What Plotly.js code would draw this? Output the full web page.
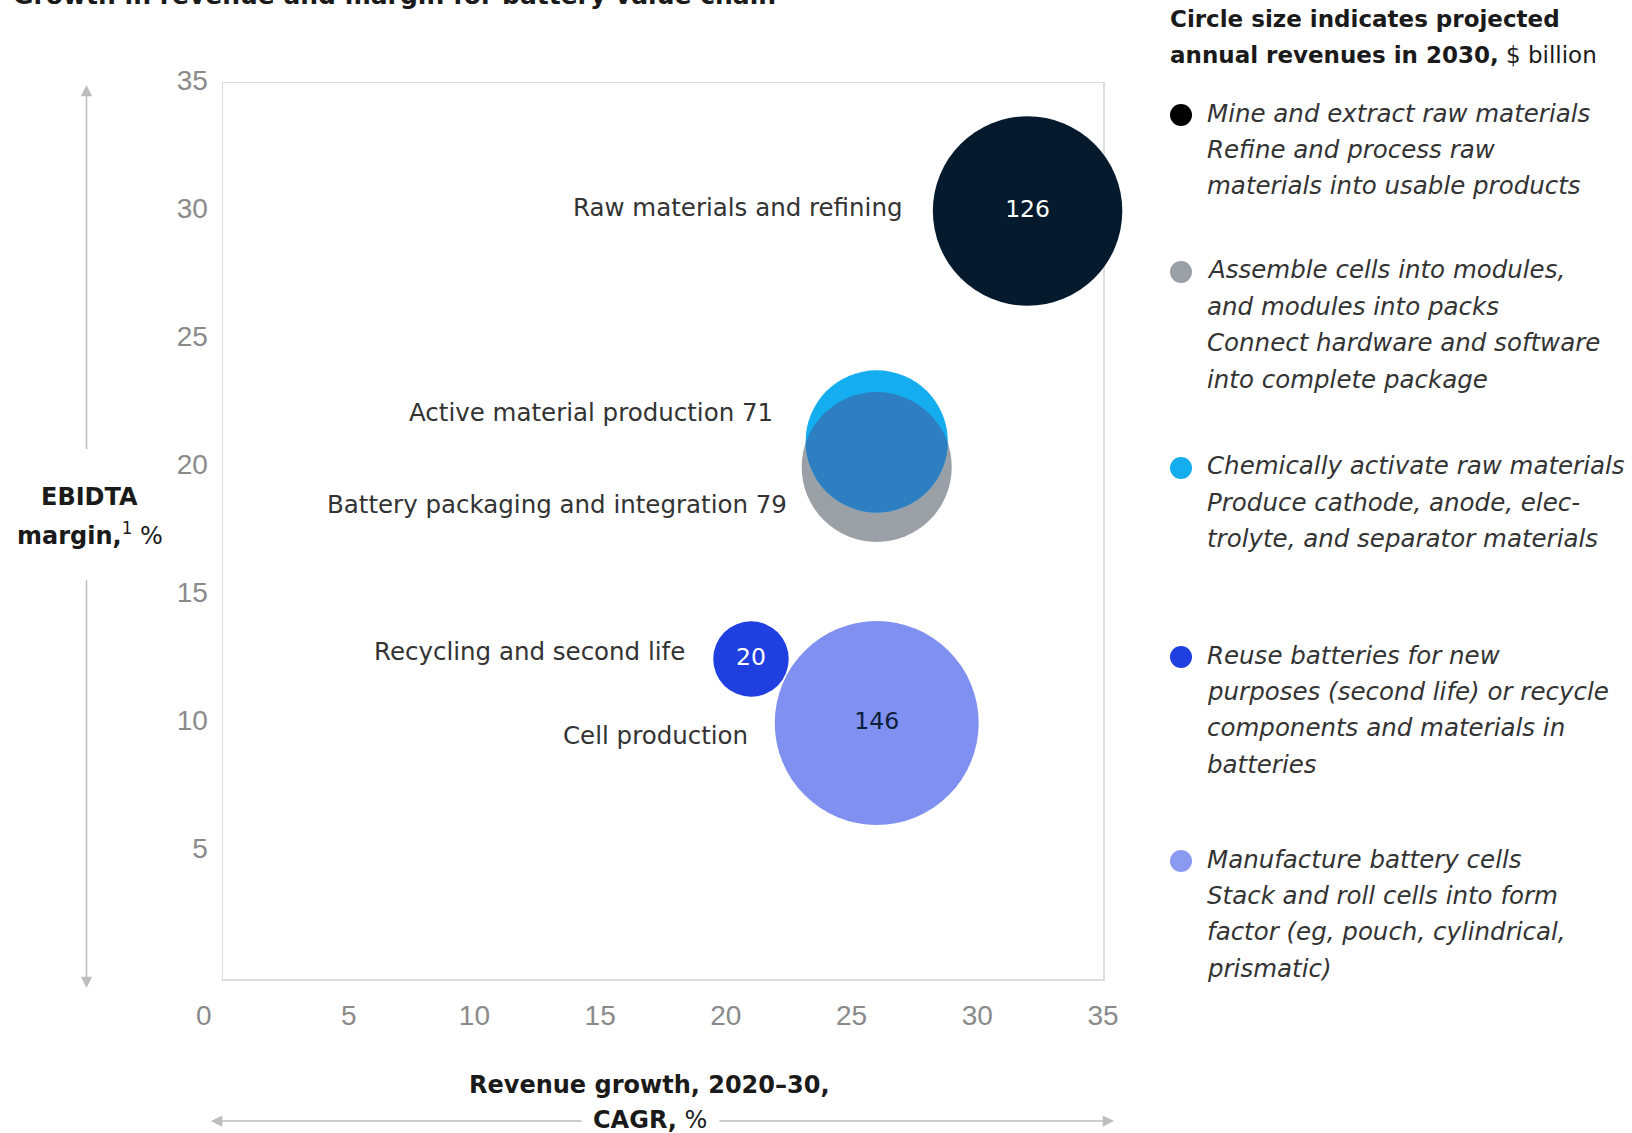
<!DOCTYPE html>
<html>
<head>
<meta charset="utf-8">
<script src="https://cdn.plot.ly/plotly-3.0.1.min.js"></script>
<style>
html, body { margin: 0; padding: 0; background: #ffffff; }
#chart { width: 1632px; height: 1133px; }
</style>
</head>
<body>
<div id="chart"></div>
<script>
// ---------------- DATA ----------------
var categories = [
  'Raw materials and refining',
  'Battery packaging and integration',
  'Active material production',
  'Recycling and second life',
  'Cell production'
];
var revenueGrowth = [32, 26, 26, 21, 26];        // CAGR 2020-30, %
var ebitdaMargin  = [30, 20, 21, 12.5, 10];      // %
var revenue2030   = [126, 79, 71, 20, 146];      // $ billion
var valueInside   = [true, false, false, true, true];
var bubbleColors  = ['#061a2e', '#9aa0a6', '#14adf0', '#1f3fe0', '#8090f0'];
var insideTextColors = ['#ffffff', '#ffffff', '#ffffff', '#ffffff', '#0a1f3a'];
var lensColor = '#2e7fc1';

var xTickVals = [5, 10, 15, 20, 25, 30, 35];
var xTickText = ['5', '10', '15', '20', '25', '30', '35'];
var yTickVals = [5, 10, 15, 20, 25, 30, 35];
var yTickText = ['5', '10', '15', '20', '25', '30', '35'];
var cornerTick = '0';

var chartTitle = 'Growth in revenue and margin for battery value chain';
var xTitleLines = ['<b>Revenue growth, 2020–30,</b>', '<b>CAGR,</b> %'];
var yTitleLines = ['<b>EBIDTA</b>', '<b>margin,</b><sup>1</sup> %'];
var legendTitleLines = ['<b>Circle size indicates projected</b>', '<b>annual revenues in 2030,</b> $ billion'];
var legendColors = ['#000000', '#9aa0a6', '#14adf0', '#1f3fe0', '#8a9af0'];
var legendLines = [
  ['Mine and extract raw materials', 'Refine and process raw', 'materials into usable products'],
  ['Assemble cells into modules,', 'and modules into packs', 'Connect hardware and software', 'into complete package'],
  ['Chemically activate raw materials', 'Produce cathode, anode, elec-', 'trolyte, and separator materials'],
  ['Reuse batteries for new', 'purposes (second life) or recycle', 'components and materials in', 'batteries'],
  ['Manufacture battery cells', 'Stack and roll cells into form', 'factor (eg, pouch, cylindrical,', 'prismatic)']
];

// ---------------- LAYOUT CONSTANTS (positions / styles) ----------------
var W = 1632, H = 1133;
var ML = 223, MR = 529, MT = 83, MB = 154;
var PW = W - ML - MR, PH = H - MT - MB;
function pxX(px) { return (px - ML) / PW; }
function pxY(py) { return (H - MB - py) / PH; }

var TXT = 'DejaVu Sans, Verdana, sans-serif';
var TICK = 'Liberation Sans, Arial, sans-serif';
var labelShiftX = [-124, -88, -102, -64, -127];
var labelShiftY = [4, -37, 29, 8, -12];
var legendEntryY = [113, 270, 466, 655, 859];
var legendLineGap = 36.4;

// ---------------- TRACE ----------------
var bubbleTrace = {
  type: 'scatter',
  mode: 'markers+text',
  x: revenueGrowth,
  y: ebitdaMargin,
  text: revenue2030.map(function (v, i) { return valueInside[i] ? String(v) : ''; }),
  textposition: 'middle center',
  textfont: { family: TXT, size: 23.5, color: insideTextColors },
  cliponaxis: false,
  hoverinfo: 'skip',
  marker: {
    size: revenue2030,
    sizemode: 'area',
    sizeref: 0.00702,
    color: bubbleColors,
    opacity: 1,
    line: { width: 0 }
  },
  showlegend: false
};

// ---------------- ANNOTATIONS ----------------
var ann = [];

// bubble labels
categories.forEach(function (c, i) {
  ann.push({
    x: revenueGrowth[i], y: ebitdaMargin[i], xref: 'x', yref: 'y',
    text: valueInside[i] ? c : c + ' ' + revenue2030[i],
    showarrow: false, xanchor: 'right', yanchor: 'middle',
    xshift: labelShiftX[i], yshift: labelShiftY[i],
    font: { family: TXT, size: 24.5, color: '#333333' }
  });
});

// corner "0"
ann.push({
  x: 0, y: 0, xref: 'x', yref: 'y', text: cornerTick, showarrow: false,
  xanchor: 'center', yanchor: 'middle', xshift: -19, yshift: -36,
  font: { family: TICK, size: 28, color: '#8a8a8a' }
});

// chart title (cut at top edge as in reference)
ann.push({
  x: pxX(11), y: pxY(12), xref: 'paper', yref: 'paper', text: '<b>' + chartTitle + '</b>',
  showarrow: false, xanchor: 'left', yanchor: 'bottom',
  font: { family: TXT, size: 25, color: '#1a1a1a' }
});

// y title
var yTitleY = [497.5, 534];
yTitleLines.forEach(function (t, i) {
  ann.push({
    x: pxX(89.5), y: pxY(yTitleY[i]), xref: 'paper', yref: 'paper', text: t,
    showarrow: false, xanchor: 'center', yanchor: 'middle',
    font: { family: TXT, size: 24, color: '#1a1a1a' }
  });
});

// x title
var xTitleY = [1084.5, 1120];
xTitleLines.forEach(function (t, i) {
  ann.push({
    x: pxX(649.5), y: pxY(xTitleY[i]), xref: 'paper', yref: 'paper', text: t,
    showarrow: false, xanchor: 'center', yanchor: 'middle',
    font: { family: TXT, size: 24, color: '#1a1a1a' }
  });
});

// axis arrows
var arrowStyle = { showarrow: true, arrowhead: 2, arrowsize: 1.5, arrowwidth: 1.5, arrowcolor: '#bdbdbd', text: ' ' };
function arrow(tipX, tipY, tailX, tailY) {
  return Object.assign({
    x: pxX(tipX), y: pxY(tipY), xref: 'paper', yref: 'paper',
    ax: tailX - tipX, ay: tailY - tipY, axref: 'pixel', ayref: 'pixel',
    font: { size: 1 }
  }, arrowStyle);
}
ann.push(arrow(86.5, 85, 86.5, 451));
ann.push(arrow(86.5, 988, 86.5, 578));
ann.push(arrow(211, 1121, 583, 1121));
ann.push(arrow(1114, 1121, 718, 1121));

// legend title
var legTitleY = [18.7, 55];
legendTitleLines.forEach(function (t, i) {
  ann.push({
    x: pxX(1168), y: pxY(legTitleY[i]), xref: 'paper', yref: 'paper', text: t,
    showarrow: false, xanchor: 'left', yanchor: 'middle',
    font: { family: TXT, size: 23, color: '#1a1a1a' }
  });
});

// legend entries
var shapes = [];
legendLines.forEach(function (lines, e) {
  lines.forEach(function (t, j) {
    ann.push({
      x: pxX(1205), y: pxY(legendEntryY[e] + j * legendLineGap), xref: 'paper', yref: 'paper',
      text: '<i>' + t + '</i>', showarrow: false, xanchor: 'left', yanchor: 'middle',
      font: { family: TXT, size: 24.5, color: '#333333' }
    });
  });
  shapes.push({
    type: 'circle', xref: 'paper', yref: 'paper',
    xsizemode: 'pixel', ysizemode: 'pixel',
    xanchor: pxX(1181), yanchor: pxY(legendEntryY[e] + 2),
    x0: -11, x1: 11, y0: -11, y1: 11,
    fillcolor: legendColors[e], line: { width: 0 }
  });
});

var layout = {
  width: W, height: H,
  margin: { l: ML, r: MR, t: MT, b: MB, pad: 0 },
  paper_bgcolor: '#ffffff', plot_bgcolor: '#ffffff',
  showlegend: false,
  xaxis: {
    range: [0, 35], tickvals: xTickVals, ticktext: xTickText,
    showgrid: false, zeroline: false, showline: true, mirror: true,
    linecolor: '#dedede', linewidth: 1.5, ticks: '', layer: 'below traces',
    ticklabelstandoff: 11,
    tickfont: { family: TICK, size: 28, color: '#8a8a8a' }
  },
  yaxis: {
    range: [0, 35], tickvals: yTickVals, ticktext: yTickText,
    showgrid: false, zeroline: false, showline: true, mirror: true,
    linecolor: '#dedede', linewidth: 1.5, ticks: '', layer: 'below traces',
    ticklabelstandoff: 8, ticklabelshift: -3,
    tickfont: { family: TICK, size: 28, color: '#8a8a8a' }
  },
  annotations: ann,
  shapes: shapes
};

Plotly.newPlot('chart', [bubbleTrace], layout, { staticPlot: true, displayModeBar: false }).then(function (gd) {
  // colour the overlap of the packaging (back) and active-material (front) bubbles
  try {
    var NS = 'http://www.w3.org/2000/svg';
    var pts = gd.querySelectorAll('.scatterlayer .trace .points path.point');
    var back = pts[1], front = pts[2];
    if (!back || !front) return;
    var defs = gd.querySelector('svg.main-svg defs');
    var cp = document.createElementNS(NS, 'clipPath');
    cp.setAttribute('id', 'lens-clip');
    var c1 = back.cloneNode(false);
    cp.appendChild(c1);
    defs.appendChild(cp);
    var g = document.createElementNS(NS, 'g');
    g.setAttribute('clip-path', 'url(#lens-clip)');
    var c2 = front.cloneNode(false);
    c2.style.fill = lensColor;
    c2.style.fillOpacity = 1;
    c2.style.opacity = 1;
    g.appendChild(c2);
    front.parentNode.insertBefore(g, front.nextSibling);
  } catch (err) { /* ignore */ }
});
</script>
</body>
</html>
